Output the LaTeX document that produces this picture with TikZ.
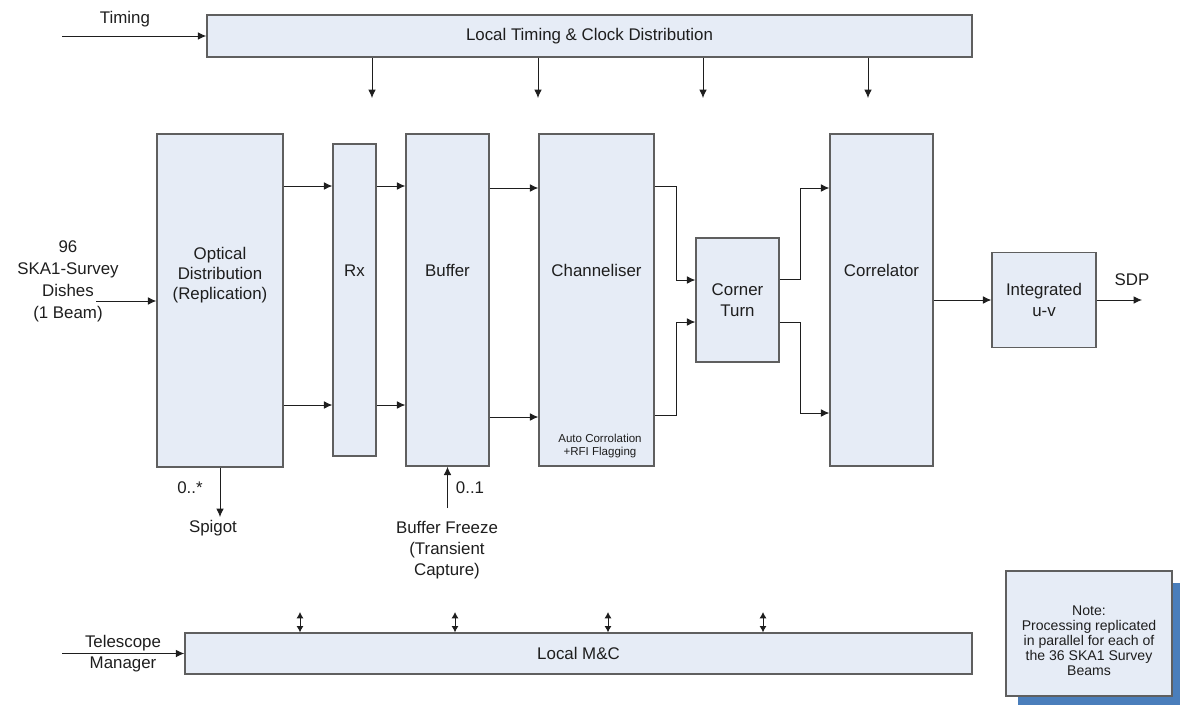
\documentclass[tikz,border=0pt]{standalone}
\usepackage{fontspec}
\setmainfont{Liberation Sans}
\usetikzlibrary{positioning,arrows.meta,calc,shadows}
\definecolor{Edge}{HTML}{5F5F5F}
\definecolor{Soft}{HTML}{E6ECF6}
\definecolor{Ink}{HTML}{1E1E1E}
\definecolor{Shade}{HTML}{4A7EBB}

\begin{document}
\begin{tikzpicture}[x=0.025cm, y=-0.025cm, every node/.style={font=\fontsize{12}{14.5}\selectfont, text=Ink},
    lift/.style={label={[align=center, yshift=21pt]center:#1}}]
  \tikzstyle{box}=[draw=Edge, fill=Soft, line width=0.9pt, inner sep=0pt, align=center]
  \tikzstyle{arrow}=[-{Latex[length=6pt,width=5.5pt]}, line width=0.7pt, color=Ink]
  \tikzstyle{both}=[{Latex[length=4.5pt,width=5pt]}-{Latex[length=4.5pt,width=5pt]}, line width=0.7pt, color=Ink]

  \useasboundingbox (0,0) rectangle (1180,705);

  \node[box, minimum width=19.125cm, minimum height=1.05cm] (clk) at (589.5,36) {Local Timing \& Clock Distribution};
  \node[box, minimum width=3.15cm, minimum height=8.325cm,
        label={[align=center, yshift=18pt]center:Optical\\Distribution\\(Replication)}] (opt) at (220,300.5) {};
  \node[box, minimum width=1.075cm, minimum height=7.8cm, lift=Rx] (rx) at (354.5,300) {};
  \node[box, minimum width=2.075cm, minimum height=8.3cm, lift=Buffer] (buf) at (447.5,300) {};
  \node[box, minimum width=2.875cm, minimum height=8.3cm, lift=Channeliser] (chan) at (596.5,300) {};
  \node[font=\fontsize{8.2}{9.6}\selectfont, align=center] (ac) at (600,446) {Auto Corrolation\\+RFI Flagging};
  \node[box, minimum width=2.075cm, minimum height=3.1cm, font=\fontsize{12}{15}\selectfont] (ct) at (737.5,300) {Corner\\Turn};
  \node[box, minimum width=2.575cm, minimum height=8.3cm, lift=Correlator] (corr) at (881.5,300) {};
  \node[box, minimum width=2.6cm, minimum height=2.375cm, font=\fontsize{12}{15.5}\selectfont] (uv) at (1044,300) {Integrated\\u-v};
  \node[box, minimum width=19.675cm, minimum height=1.025cm] (mc) at (578.5,653.5) {Local M\&C};
  \node[box, minimum width=4.15cm, minimum height=3.125cm,
        drop shadow={shadow xshift=0.3cm, shadow yshift=-0.3cm, fill=Shade, opacity=1},
        label={[font=\fontsize{10}{10.7}\selectfont, align=center, yshift=-5pt]center:Note:\\Processing replicated\\in parallel for each of\\the 36 SKA1 Survey\\Beams}] (note) at (1089,633.5) {};

  % free labels
  \node (tlab) at (125,19) {Timing};
  \node[align=center, font=\fontsize{12}{15.6}\selectfont] (dish) at (68,281) {96\\SKA1-Survey\\Dishes\\(1 Beam)};
  \node (sdp) at (1132,280) {SDP};
  \node (many) at (190,488) {0..*};
  \node (spig) at (213,528) {Spigot};
  \node (one) at (470,488) {0..1};
  \node[align=center, font=\fontsize{12}{15}\selectfont] (frz) at (447,550) {Buffer Freeze\\(Transient\\Capture)};
  \node[align=center, font=\fontsize{12}{15}\selectfont] (tm) at (123,653.5) {Telescope\\Manager};

  \coordinate (tin) at (62,36);
  \coordinate (din) at (96,301);
  \coordinate (sdpout) at (1142,300);
  \coordinate (spout) at (220,517);
  \coordinate (frzin) at (447.5,508);
  \coordinate (tmin) at (62,653.5);
  \coordinate (hi) at (0,186);
  \coordinate (lo) at (0,405);
  \coordinate (hi2) at (0,188);
  \coordinate (lo2) at (0,417);
  \coordinate (lo3) at (0,415);
  \coordinate (lo4) at (0,413);

  \draw[arrow] (tin) -- (clk.west);
  \foreach \x in {372,538,703,868} {
    \coordinate (t\x) at (\x,98);
    \draw[arrow] (clk.south -| t\x) -- (t\x);
  }
  \draw[arrow] (din) -- (din -| opt.west);
  \draw[arrow] (opt.east |- hi) -- (rx.west |- hi);
  \draw[arrow] (opt.east |- lo) -- (rx.west |- lo);
  \draw[arrow] (rx.east |- hi) -- (buf.west |- hi);
  \draw[arrow] (rx.east |- lo) -- (buf.west |- lo);
  \draw[arrow] (buf.east |- hi2) -- (chan.west |- hi2);
  \draw[arrow] (buf.east |- lo2) -- (chan.west |- lo2);
  \draw[arrow] (chan.east |- hi) -- ++(22,0) |- ($(ct.west)+(0,-20)$);
  \draw[arrow] (chan.east |- lo3) -- ++(22,0) |- ($(ct.west)+(0,22)$);
  \draw[arrow] ($(ct.east)+(0,-21)$) -- ++(21,0) |- (corr.west |- hi2);
  \draw[arrow] ($(ct.east)+(0,22)$) -- ++(21,0) |- (corr.west |- lo4);
  \draw[arrow] (corr.east) -- (uv.west);
  \draw[arrow] (uv.east) -- (sdpout);
  \draw[arrow] (opt.south) -- (spout);
  \draw[arrow] (frzin) -- (buf.south);
  \draw[arrow] (tmin) -- (mc.west);
  \foreach \x in {300,455,608,763} {
    \coordinate (m\x) at (\x,612);
    \draw[both] (m\x) -- (mc.north -| m\x);
  }
\end{tikzpicture}
\end{document}
